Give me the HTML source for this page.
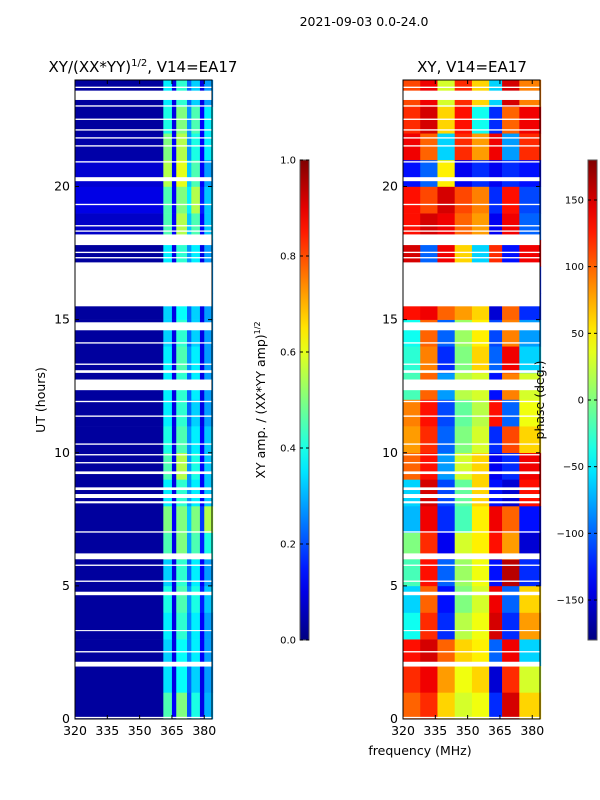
<!DOCTYPE html>
<html><head><meta charset="utf-8"><style>
html,body{margin:0;padding:0;background:#fff;}
svg{display:block;font-family:"DejaVu Sans","Liberation Sans",sans-serif;}
</style></head><body>
<svg id="chart" width="600" height="800" viewBox="0 0 600 800">
<defs>
<linearGradient id="jetV" x1="0" y1="1" x2="0" y2="0"></linearGradient>
</defs>
<text x="364" y="26" font-size="12.5" text-anchor="middle">2021-09-03 0.0-24.0</text>
<text x="143" y="72" font-size="15" text-anchor="middle">XY/(XX*YY)<tspan font-size="10" dy="-6">1/2</tspan><tspan dy="6">, V14=EA17</tspan></text>
<text x="472" y="72" font-size="15" text-anchor="middle">XY, V14=EA17</text>
<g id="ampPanel"></g>
<g id="phasePanel"></g>
<g id="axes"></g>
<text transform="translate(45,400) rotate(-90)" font-size="12.5" text-anchor="middle">UT (hours)</text>
<text x="420" y="755" font-size="12.5" text-anchor="middle">frequency (MHz)</text>
<text transform="translate(265,400) rotate(-90)" font-size="12.5" text-anchor="middle">XY amp. / (XX*YY amp)<tspan font-size="8" dy="-5">1/2</tspan></text>
<text transform="translate(544,400) rotate(-90)" font-size="12.5" text-anchor="middle">phase (deg.)</text>
</svg>
<script>
// ---- data ----
const hours = [0,1,2,3,4,5,6,7,8,9,10,11,12,13,14,15,16,17,18,19,20,21,22,23];
const ampFreqEdges = [320,361,365,367,372,374,378,380,384];
const phaseFreqEdges = [320,328,336,344,352,360,366,374,384];
const ampValues = [
[0.03,0.45,0.12,0.5,0.2,0.4,0.1,0.3],
[0.03,0.35,0.1,0.38,0.22,0.33,0.1,0.28],
[0.03,0.33,0.1,0.38,0.25,0.36,0.12,0.28],
[0.03,0.36,0.1,0.42,0.25,0.36,0.12,0.28],
[0.03,0.4,0.1,0.45,0.27,0.4,0.15,0.32],
[0.03,0.33,0.1,0.42,0.22,0.36,0.12,0.28],
[0.03,0.45,0.1,0.5,0.28,0.45,0.15,0.4],
[0.03,0.5,0.12,0.5,0.32,0.5,0.18,0.55],
[0.03,0.36,0.1,0.42,0.27,0.36,0.12,0.32],
[0.03,0.45,0.1,0.55,0.27,0.4,0.12,0.32],
[0.03,0.4,0.1,0.45,0.27,0.36,0.12,0.32],
[0.03,0.36,0.1,0.42,0.22,0.33,0.1,0.28],
[0.03,0.36,0.1,0.42,0.22,0.36,0.1,0.28],
[0.03,0.36,0.1,0.45,0.27,0.36,0.1,0.28],
[0.03,0.33,0.1,0.42,0.22,0.33,0.1,0.28],
[0.03,0.33,0.1,0.38,0.22,0.33,0.1,0.28],
[0.03,0.33,0.1,0.38,0.22,0.33,0.1,0.28],
[0.03,0.36,0.1,0.42,0.27,0.36,0.1,0.28],
[0.07,0.45,0.12,0.55,0.32,0.45,0.12,0.32],
[0.1,0.45,0.12,0.5,0.36,0.55,0.15,0.32],
[0.08,0.55,0.12,0.6,0.32,0.45,0.12,0.28],
[0.04,0.5,0.12,0.55,0.27,0.4,0.12,0.36],
[0.03,0.4,0.1,0.5,0.27,0.45,0.12,0.36],
[0.03,0.36,0.1,0.42,0.22,0.33,0.1,0.28]
];
const phaseValues = [
[100,120,60,30,40,-120,150,60],
[120,140,80,40,60,-150,120,30],
[130,150,100,60,50,-100,140,-60],
[-40,120,-120,20,40,150,-120,80],
[-60,100,-130,0,30,140,-100,60],
[-20,130,-100,10,40,-130,160,-120],
[0,120,-140,30,50,130,80,-150],
[-70,140,-120,-20,50,140,100,-130],
[-60,150,-110,-10,60,-130,-150,130],
[100,130,-80,30,60,-140,-120,140],
[80,120,-100,0,30,-120,110,60],
[90,130,-110,-10,20,130,-100,40],
[-20,100,-80,20,30,-130,90,30],
[-30,90,-120,0,60,-100,140,-60],
[-40,100,-100,10,50,-110,90,-80],
[130,140,100,80,60,-150,100,-120],
[130,140,100,80,60,-150,100,-120],
[150,-100,140,60,-60,120,-130,140],
[130,150,140,100,80,-140,140,-100],
[130,110,150,110,90,-120,130,-110],
[-130,-100,50,-140,-120,-140,-120,-130],
[140,100,-60,120,80,140,-80,120],
[120,150,60,130,-40,-120,100,140],
[110,140,30,120,60,-60,150,90]
];
const flagged = [[0.03,0.08],[1.97,2.15],[2.5,2.55],[3.3,3.34],[4.65,4.78],[5.15,5.2],[5.75,5.8],[6.0,6.22],[7.0,7.05],[8.1,8.18],[8.3,8.45],[8.6,8.7],[9.2,9.3],[9.6,9.65],[9.9,9.95],[10.3,10.35],[11.35,11.4],[11.9,11.95],[12.35,12.75],[13.0,13.1],[13.3,13.35],[14.1,14.15],[14.6,14.9],[15.5,17.15],[17.3,17.35],[17.5,17.55],[17.8,18.2],[18.3,18.35],[18.5,18.55],[19.3,19.35],[20.2,20.35],[20.9,20.95],[21.5,21.55],[21.8,21.85],[22.1,22.15],[22.5,22.55],[23.0,23.05],[23.25,23.6],[23.7,23.75]];
const yTicks = [0,5,10,15,20];
const xTicks = [320,335,350,365,380];
const ampCbTicks = [0.0,0.2,0.4,0.6,0.8,1.0];
const phaseCbTicks = [-150,-100,-50,0,50,100,150];

// ---- scales ----
const NS='http://www.w3.org/2000/svg';
const Y0=719, Y1=80;
const yS = h => Y0 - (h/24)*(Y0-Y1);
function xScale(left){ return f => left + (f-320)*(137/63.6); }
const xL = xScale(75), xR = xScale(403);
function jet(v){
  v=Math.max(0,Math.min(1,v));
  const c=t=>Math.round(255*Math.max(0,Math.min(1,t)));
  const r=1.5-Math.abs(4*v-3), g=1.5-Math.abs(4*v-2), b=1.5-Math.abs(4*v-1);
  return `rgb(${c(r)},${c(g)},${c(b)})`;
}
function mk(tag,attrs,parent){const e=document.createElementNS(NS,tag);for(const k in attrs)e.setAttribute(k,attrs[k]);parent.appendChild(e);return e;}

function drawHeat(g, xs, edges, vals, norm){
  hours.forEach((h,i)=>{
    for(let j=0;j<edges.length-1;j++){
      const x0=xs(edges[j]), x1=xs(edges[j+1]);
      const yTop=yS(h+1), yBot=yS(h);
      const r=mk('rect',{x:x0,y:yTop,width:x1-x0+0.3,height:yBot-yTop+0.3,fill:jet(norm(vals[i][j]))},g);
      
      
    }
  });
  flagged.forEach(([a,b])=>{
    const r=mk('rect',{x:xs(320),y:yS(b),width:xs(383.6)-xs(320),height:yS(a)-yS(b),fill:'#fff'},g);
    
    
  });
}
drawHeat(document.getElementById('ampPanel'), xL, ampFreqEdges, ampValues, v=>v);
drawHeat(document.getElementById('phasePanel'), xR, phaseFreqEdges, phaseValues, v=>(v+180)/360);

const axes=document.getElementById('axes');
function frame(left, name){
  const f=mk('rect',{x:left,y:Y1,width:137,height:Y0-Y1,fill:'none',stroke:'#000','stroke-width':1},axes);
  
  
  const xs=xScale(left);
  xTicks.forEach(t=>{
    const x=xs(t);
    mk('line',{x1:x,y1:Y0,x2:x,y2:Y0-4,stroke:'#000'},axes);
    mk('line',{x1:x,y1:Y1,x2:x,y2:Y1+4,stroke:'#000'},axes);
    const tx=mk('text',{x:x,y:Y0+16,'font-size':12.5,'text-anchor':'middle'},axes);
    tx.textContent=t;
    
    
  });
  yTicks.forEach(t=>{
    const y=yS(t);
    mk('line',{x1:left,y1:y,x2:left+4,y2:y,stroke:'#000'},axes);
    mk('line',{x1:left+137,y1:y,x2:left+133,y2:y,stroke:'#000'},axes);
    const tx=mk('text',{x:left-5,y:y+4,'font-size':12.5,'text-anchor':'end'},axes);
    tx.textContent=t;
    
    
  });
}
frame(75,'left-axes-frame');
frame(403,'right-axes-frame');

const grad=document.getElementById('jetV');
for(let i=0;i<=20;i++){mk('stop',{offset:(i/20),'stop-color':jet(i/20)},grad);}
function colorbar(x, name, ticks, norm){
  const r=mk('rect',{x:x,y:160,width:9,height:480,fill:'url(#jetV)',stroke:'#555','stroke-width':1},axes);
  
  
  ticks.forEach(t=>{
    const y=640-norm(t)*480;
    mk('line',{x1:x,y1:y,x2:x+3,y2:y,stroke:'#000'},axes);
    mk('line',{x1:x+9,y1:y,x2:x+6,y2:y,stroke:'#000'},axes);
    const tx=mk('text',{x:x-4,y:y+3.5,'font-size':10,'text-anchor':'end'},axes);
    tx.textContent=(name==='amp-colorbar')?t.toFixed(1):String(t).replace('-','\u2212');
    
    
  });
}
colorbar(300,'amp-colorbar',ampCbTicks,v=>v);
colorbar(588,'phase-colorbar',phaseCbTicks,v=>(v+180)/360);
</script>
</body></html>
